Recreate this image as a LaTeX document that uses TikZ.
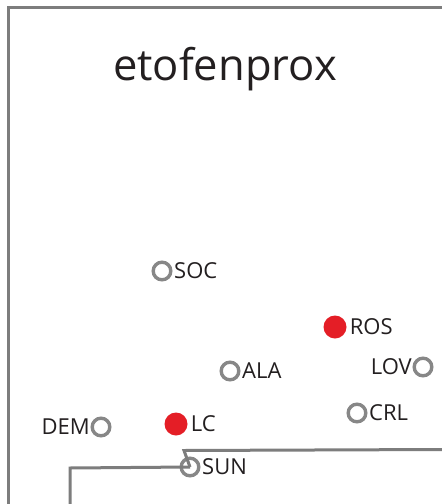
\documentclass[tikz,border=0pt]{standalone}
\usepackage{fontspec}
\setmainfont{Open Sans}
\usetikzlibrary{positioning}

\definecolor{ringgrey}{RGB}{135,135,135}
\definecolor{framegrey}{RGB}{125,125,125}
\definecolor{hitred}{RGB}{228,30,38}
\definecolor{ink}{RGB}{35,31,32}

\tikzset{
    site/.style={circle, draw=ringgrey, line width=3.4pt, minimum size=17.6pt, inner sep=0pt},
    hit/.style={circle, fill=hitred, minimum size=23pt, inner sep=0pt},
    lab/.style={text=ink, inner sep=0pt, font=\fontsize{22}{22}\selectfont},
    edge/.style={draw=framegrey, line width=3pt}
}

\begin{document}
\begin{tikzpicture}[x=1pt, y=-1pt]
    \useasboundingbox (0,0) rectangle (442,504);
    \fill[white] (0,0) rectangle (442,504);

    \coordinate (topright) at (442,7);
    \coordinate (corner) at (8.5,7);
    \coordinate (bottomleft) at (8.5,504);
    \draw[edge] (topright) -- (corner) -- (bottomleft);

    \node[text=ink, font=\fontsize{43.5}{43.5}\selectfont, anchor=base] (title) at (225,80) {etofenprox};

    \foreach \name/\x/\y/\txt in {soc/162/271/SOC, ala/230/371/ALA, crl/357/413/CRL, sun/190/467/SUN} {
        \node[site] (\name) at (\x,\y) {};
        \node[lab, right=1.5pt of \name] (\name lab) {\txt};
    }
    \foreach \name/\x/\y/\txt in {dem/101/427/DEM, lov/423/367/LOV} {
        \node[site] (\name) at (\x,\y) {};
        \node[lab, left=0.5pt of \name] (\name lab) {\txt};
    }
    \foreach \name/\x/\y/\txt in {ros/335/327/ROS, lc/176/424/LC} {
        \node[hit] (\name) at (\x,\y) {};
        \node[lab, right=3pt of \name] (\name lab) {\txt};
    }

    \coordinate (east) at (442,449.5);
    \coordinate (bend) at (184,450.5);
    \coordinate (foot) at (70,468);
    \coordinate (footend) at (70,504);
    \draw[edge] (east) -- (bend) -- ++(2,5.5) -- (sun.center);
    \draw[edge] (sun.center) -- (foot) -- (footend);
\end{tikzpicture}
\end{document}
